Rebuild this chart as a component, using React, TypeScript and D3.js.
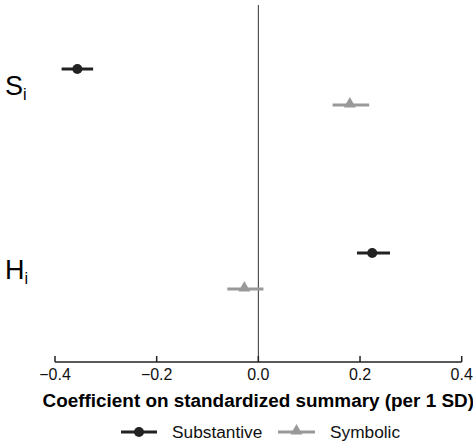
import React from "react";
import * as d3 from "d3";

const categories = ["S", "H"];
const seriesNames = ["Substantive", "Symbolic"];
const estimates = [
  [-0.356, 0.18],
  [0.224, -0.0275],
];
const lower = [
  [-0.387, 0.146],
  [0.194, -0.061],
];
const upper = [
  [-0.325, 0.218],
  [0.259, 0.01],
];
const xTicks = [-0.4, -0.2, 0, 0.2, 0.4];
const xLabel = "Coefficient on standardized summary (per 1 SD)";
const colors = ["#222222", "#999999"];

const W = 473;
const H = 442;
const FONT = "Liberation Sans, Arial, Helvetica, sans-serif";

export default function App() {
  const x = d3.scaleLinear().domain([-0.4, 0.4]).range([55, 461.7]);
  const y = d3.scalePoint<string>().domain(categories).range([87, 271]);
  const dodge = [-18, 18];
  const top = 5;
  const axisY = 362;
  const tri = d3.symbol().type(d3.symbolTriangle).size(62)();

  return (
    <svg
      width={W}
      height={H}
      style={{ position: "absolute", left: 0, top: 0, background: "#fff" }}
      fontFamily={FONT}
    >
      <line x1={x(0)} x2={x(0)} y1={top} y2={axisY} stroke="#333" strokeWidth={1} />
      {categories.map((c) => (
        <text key={c} x={5} y={(y(c) as number) + 8} fontSize={27} fill="#000">
          {c}
          <tspan fontSize={16} dy={5}>i</tspan>
        </text>
      ))}
      {categories.map((c, ci) =>
        seriesNames.map((s, si) => {
          const cy = (y(c) as number) + dodge[si];
          const cx = x(estimates[ci][si]);
          return (
            <g key={c + s}>
              <line
                x1={x(lower[ci][si])}
                x2={x(upper[ci][si])}
                y1={cy}
                y2={cy}
                stroke={colors[si]}
                strokeWidth={3}
              />
              {si === 0 ? (
                <circle cx={cx} cy={cy} r={5} fill={colors[si]} />
              ) : (
                <path d={tri as string} transform={`translate(${cx},${cy - 1})`} fill={colors[si]} />
              )}
            </g>
          );
        })
      )}
      <line x1={x(-0.4)} x2={x(0.4)} y1={axisY} y2={axisY} stroke="#222" strokeWidth={1.5} />
      {xTicks.map((t) => (
        <g key={t}>
          <line x1={x(t)} x2={x(t)} y1={axisY - 6} y2={axisY} stroke="#222" strokeWidth={1.5} />
          <text x={x(t)} y={379.5} fontSize={16} textAnchor="middle" fill="#111">
            {t === 0 ? "0.0" : (t < 0 ? "\u2212" : "") + Math.abs(t).toFixed(1)}
          </text>
        </g>
      ))}
      <text x={258.3} y={407} fontSize={18.9} fontWeight="bold" textAnchor="middle" fill="#000">
        {xLabel}
      </text>
      <g>
        <line x1={121} x2={157} y1={432} y2={432} stroke={colors[0]} strokeWidth={3} />
        <circle cx={139} cy={432} r={5} fill={colors[0]} />
        <text x={172} y={438} fontSize={17.3} fill="#111">{seriesNames[0]}</text>
        <line x1={278} x2={315} y1={432} y2={432} stroke={colors[1]} strokeWidth={3} />
        <path d={tri as string} transform="translate(296.5,431)" fill={colors[1]} />
        <text x={330} y={438} fontSize={17.3} fill="#111">{seriesNames[1]}</text>
      </g>
    </svg>
  );
}
